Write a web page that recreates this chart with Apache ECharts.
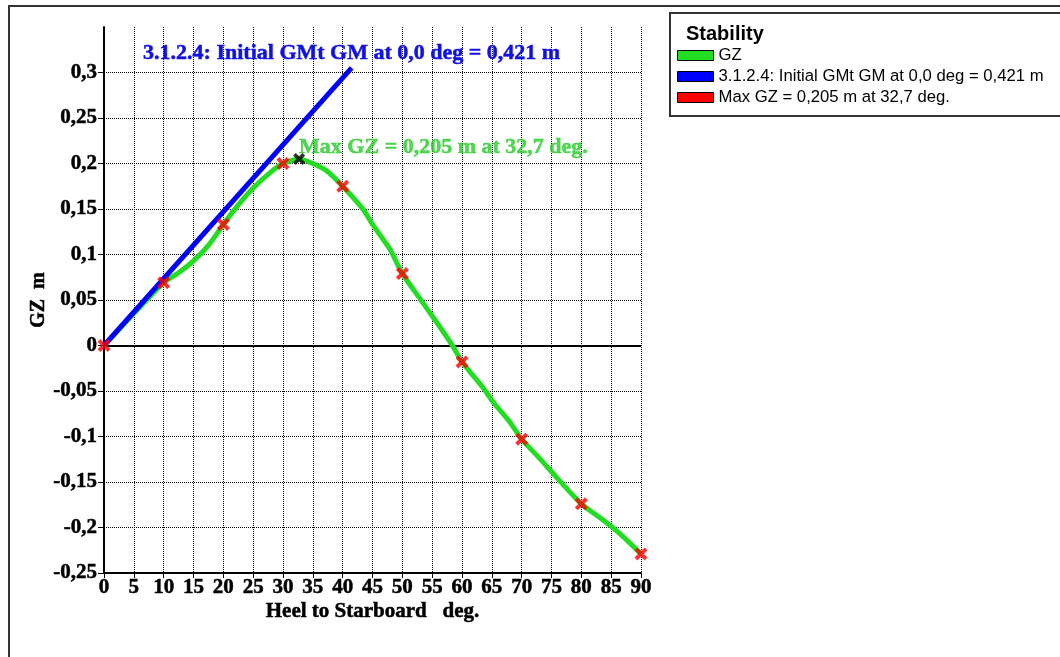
<!DOCTYPE html>
<html>
<head>
<meta charset="utf-8">
<title>Stability</title>
<script src="https://cdn.jsdelivr.net/npm/echarts@6/dist/echarts.min.js"></script>
<style>
  html, body { margin: 0; padding: 0; background: #fff; }
  #chart { width: 1060px; height: 657px; }
</style>
</head>
<body>
<div id="chart"></div>
<script>
// Righting lever (GZ) curve, heel angle in degrees
const heelDeg = [0, 5, 10, 12.5, 15, 17.5, 20, 21.7, 25, 28.4, 30, 32.7, 35, 37.3, 40, 43.5, 45, 47.9, 50, 53, 55.8, 58.3, 60, 63.6, 65.2, 68, 70, 73, 76, 80, 83.7, 86.5, 90];
const gzValues = [0, 0.035, 0.069, 0.080, 0.093, 0.110, 0.133, 0.148, 0.173, 0.193, 0.200, 0.205, 0.200, 0.192, 0.175, 0.149, 0.133, 0.106, 0.079, 0.051, 0.025, 0.001, -0.018, -0.047, -0.062, -0.084, -0.103, -0.124, -0.146, -0.174, -0.192, -0.207, -0.229];

// Tabulated GZ points every 10 degrees
const markerDeg = [0, 10, 20, 30, 40, 50, 60, 70, 80, 90];
const markerGZ = [0, 0.069, 0.133, 0.200, 0.175, 0.079, -0.018, -0.103, -0.174, -0.229];

// Initial GM slope line
const gmLineDeg = [0, 41.5];
const gmLineValues = [0, 0.305];

// Maximum GZ
const maxGZDeg = 32.7;
const maxGZValue = 0.205;

// Axis ticks
const xTicks = { min: 0, max: 90, step: 5 };
const yTicks = { min: -0.25, max: 0.35, step: 0.05 };

const seriesNames = {
  gz: 'GZ',
  gm: '3.1.2.4: Initial GMt GM at 0,0 deg = 0,421 m',
  max: 'Max GZ = 0,205 m at 32,7 deg.'
};

const GREEN = '#22dd22';
const BLUE = '#0000ff';
const RED = '#ff0000';
const SERIF = '"Liberation Serif", "Times New Roman", serif';
const SANS = '"Liberation Sans", Arial, sans-serif';

// bold "x" marker (arm half-thickness t = 2.2 on a 10x10 box)
const crossPath = 'path://M0,2.2 L2.2,0 L5,2.8 L7.8,0 L10,2.2 L7.2,5 L10,7.8 L7.8,10 L5,7.2 L2.2,10 L0,7.8 L2.8,5 Z';

const zip = (xs, ys) => xs.map((x, i) => [x, ys[i]]);
const fmtComma = v => {
  const r = Math.round(v * 100) / 100;
  return String(r).replace('.', ',');
};

// heavier serif type for the plot annotations
const serifBold = (size, color) => ({
  fontFamily: SERIF, fontWeight: 'bold', fontSize: size, color: color,
  textBorderColor: color, textBorderWidth: 0.5
});

const chart = echarts.init(document.getElementById('chart'), null, { renderer: 'canvas' });

chart.setOption({
  animation: false,
  backgroundColor: '#fff',
  grid: { left: 104, right: 419, top: 27, bottom: 84, containLabel: false },
  xAxis: {
    type: 'value',
    min: xTicks.min, max: xTicks.max, interval: xTicks.step,
    name: 'Heel to Starboard   deg.',
    nameLocation: 'middle',
    nameGap: 28,
    nameMoveOverlap: false,
    nameTextStyle: serifBold(21, '#000'),
    axisLine: { onZero: false, lineStyle: { color: '#000', width: 2 } },
    axisTick: { show: true, length: 5, lineStyle: { color: '#000', width: 1 } },
    axisLabel: Object.assign(serifBold(21, '#000'), { margin: 4 }),
    splitLine: { show: true, lineStyle: { color: '#000', width: 1, type: [1, 1] } }
  },
  yAxis: {
    type: 'value',
    min: yTicks.min, max: yTicks.max, interval: yTicks.step,
    name: 'GZ  m',
    nameLocation: 'middle',
    nameGap: 55,
    nameMoveOverlap: false,
    nameRotate: 90,
    nameTextStyle: serifBold(20, '#000'),
    axisLine: { onZero: false, lineStyle: { color: '#000', width: 2 } },
    axisTick: { show: true, length: 6, lineStyle: { color: '#000', width: 1 } },
    axisLabel: Object.assign(serifBold(21, '#000'), {
      margin: 7,
      showMaxLabel: false,
      formatter: v => (v > yTicks.max - yTicks.step / 2 ? '' : fmtComma(v))
    }),
    splitLine: { show: true, showMaxLine: false, lineStyle: { color: '#000', width: 1, type: [1, 1] } }
  },
  legend: {
    orient: 'vertical',
    left: 672, top: 42,
    itemWidth: 36, itemHeight: 10, itemGap: 4,
    textStyle: { fontFamily: SANS, fontSize: 16.7, color: '#000', lineHeight: 16.5 },
    data: [
      { name: seriesNames.gz, icon: 'rect', itemStyle: { color: GREEN, borderColor: '#000', borderWidth: 1, opacity: 1 } },
      { name: seriesNames.gm, icon: 'rect', itemStyle: { color: BLUE, borderColor: '#000', borderWidth: 1, opacity: 1 } },
      { name: seriesNames.max, icon: 'rect', itemStyle: { color: RED, borderColor: '#000', borderWidth: 1, opacity: 1 } }
    ]
  },
  title: {
    text: 'Stability',
    left: 681, top: 19,
    textStyle: { fontFamily: SANS, fontWeight: 'bold', fontSize: 20, color: '#000' }
  },
  graphic: [
    // outer frame
    { type: 'polyline', shape: { points: [[9, 657], [9, 6], [1060, 6]] }, style: { stroke: '#333', lineWidth: 2, fill: null }, silent: true },
    // legend box
    { type: 'rect', shape: { x: 670, y: 13, width: 400, height: 103 }, style: { stroke: '#333', lineWidth: 2, fill: null }, silent: true }
  ],
  series: [
    {
      name: seriesNames.gz,
      type: 'line',
      data: zip(heelDeg, gzValues),
      showSymbol: false,
      smooth: 0.2,
      lineStyle: { color: GREEN, width: 5 },
      itemStyle: { color: GREEN },
      z: 3,
      markLine: {
        silent: true,
        symbol: 'none',
        label: { show: false },
        lineStyle: { color: '#000', width: 2, type: 'solid' },
        data: [{ yAxis: 0 }],
        z: 1
      }
    },
    {
      name: seriesNames.gm,
      type: 'line',
      data: zip(gmLineDeg, gmLineValues).map((p, i, arr) => i === arr.length - 1 ? {
        value: p,
        label: Object.assign(serifBold(22, '#1010e8'), {
          show: true,
          formatter: seriesNames.gm,
          position: 'top',
          distance: 3
        })
      } : p),
      showSymbol: true,
      symbol: 'circle',
      symbolSize: 1,
      itemStyle: { color: 'rgba(0,0,0,0)' },
      lineStyle: { color: BLUE, width: 5 },
      z: 4
    },
    {
      name: seriesNames.max,
      type: 'scatter',
      data: zip(markerDeg, markerGZ),
      symbol: crossPath,
      symbolSize: 13,
      itemStyle: { color: RED },
      clip: true,
      z: 5
    },
    {
      name: 'GZ max point',
      type: 'scatter',
      data: [[maxGZDeg, maxGZValue]],
      symbol: crossPath,
      symbolSize: 12,
      itemStyle: { color: '#000' },
      label: Object.assign(serifBold(22, '#28cc28'), {
        show: true,
        formatter: seriesNames.max,
        position: 'top',
        align: 'left',
        distance: 0,
        offset: [0, 5]
      }),
      z: 6
    }
  ]
});
</script>
</body>
</html>
